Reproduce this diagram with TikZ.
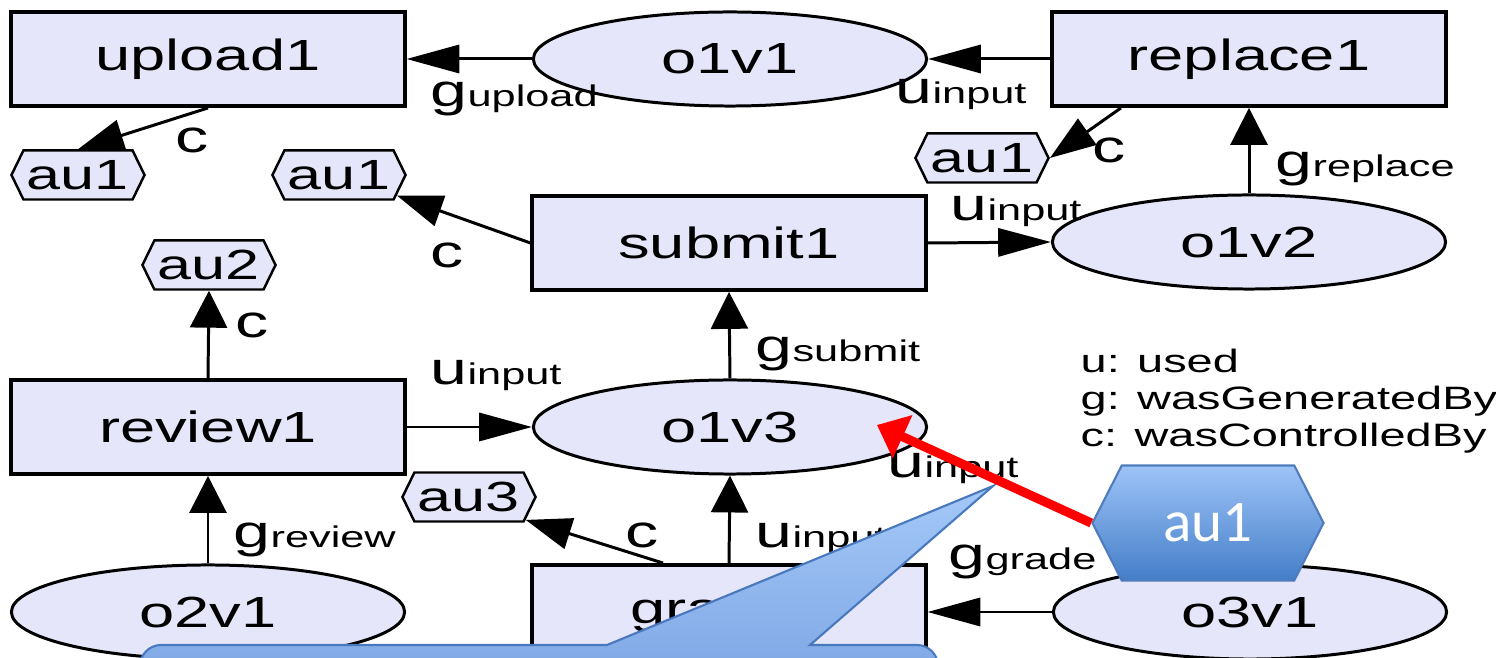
\documentclass[tikz,border=0pt]{standalone}
\usepackage{fontspec}
\setmainfont{Liberation Sans}[FakeStretch=1.45]
\newfontfamily\slidefont{Carlito}
\usetikzlibrary{arrows.meta,shapes.geometric,shapes.symbols}

\definecolor{provfill}{RGB}{230,230,250}
\definecolor{hexTop}{RGB}{158,196,248}
\definecolor{hexBot}{RGB}{68,126,200}
\definecolor{hexLine}{RGB}{78,124,188}
\definecolor{noteTop}{RGB}{164,200,248}
\definecolor{noteBot}{RGB}{118,160,224}
\definecolor{noteLine}{RGB}{72,120,190}

\newcommand{\nodefont}{\fontsize{12.4}{14}\selectfont}
\newcommand{\agentfont}{\fontsize{12}{13}\selectfont}
% edge label: big letter, small role name on the same baseline
\newcommand{\elab}[2]{{\fontsize{13}{15}\selectfont #1}{\fontsize{8.5}{10}\selectfont #2}}

\tikzset{
	proc/.style={draw, line width=1.1pt, fill=provfill, minimum width=3.93cm, minimum height=0.94cm, inner sep=0pt, font=\nodefont},
	art/.style={ellipse, draw, line width=0.85pt, fill=provfill, minimum width=3.93cm, minimum height=0.94cm, inner sep=0pt, font=\nodefont},
	agent/.style={signal, signal to=west and east, signal pointer angle=128, draw, line width=0.7pt, fill=provfill, minimum width=1.33cm, minimum height=0.49cm, inner sep=0pt, font=\agentfont},
	bigagent/.style={signal, signal to=west and east, signal pointer angle=126, draw=hexLine, line width=0.6pt, top color=hexTop, bottom color=hexBot, minimum width=2.31cm, minimum height=1.15cm, inner sep=0pt, text=white, font=\slidefont\fontsize{16.8}{20}\selectfont},
	lab/.style={anchor=base west, inner sep=0pt},
	legend/.style={anchor=base west, inner sep=0pt, font=\fontsize{9.2}{11}\selectfont},
	hedge/.style={-{Triangle[length=15pt,width=8pt]}, line width=0.85pt},
	vedge/.style={-{Triangle[length=10.5pt,width=10.5pt]}, line width=0.85pt},
	dedge/.style={-{Triangle[length=13pt,width=9pt]}, line width=0.85pt},
	redarrow/.style={-{Triangle[length=8pt,width=13pt]}, line width=2.6pt, red},
	note/.style={draw=noteLine, line width=0.6pt, top color=noteTop, bottom color=noteBot}
}

\begin{document}
\begin{tikzpicture}[x=0.01cm, y=-0.01cm]
	\useasboundingbox (0,0) rectangle (1496,658);
	\clip (0,0) rectangle (1496,658);

	% processes
	\node[proc] (upload1) at (208,59) {upload1};
	\node[proc] (replace1) at (1249,59) {replace1};
	\node[proc] (submit1) at (729,243) {submit1};
	\node[proc] (review1) at (208,427) {review1};
	\node[proc] (grade1) at (729,612) {grade1};

	% artifacts
	\node[art] (o1v1) at (730,59) {o1v1};
	\node[art] (o1v2) at (1249,242) {o1v2};
	\node[art] (o1v3) at (730,427) {o1v3};
	\node[art] (o2v1) at (208,612) {o2v1};
	\node[art] (o3v1) at (1250,612) {o3v1};

	% agents
	\node[agent] (au1a) at (78,175) {au1};
	\node[agent] (au1b) at (339,175) {au1};
	\node[agent] (au1c) at (982,158) {au1};
	\node[agent] (au2) at (209,265) {au2};
	\node[agent] (au3) at (469,497) {au3};

	% wasGeneratedBy
	\draw[hedge] (o1v1.west) -- (upload1.east);
	\draw[vedge] (o1v2.north) -- (replace1.south);
	\draw[vedge] (o1v3.north) -- (submit1.south);
	\draw[vedge] (o2v1.north) -- (review1.south);
	\draw[hedge] (o3v1.west) -- (grade1.east);

	% used
	\draw[hedge] (replace1.west) -- (o1v1.east);
	\draw[hedge] (submit1.east) -- (o1v2.west);
	\draw[hedge] (review1.east) -- (o1v3.west);
	\draw[vedge] (grade1.north) -- (o1v3.south);

	% wasControlledBy
	\draw[dedge] (upload1.south) -- (au1a.north);
	\draw[dedge] ([xshift=-1.28cm]replace1.south) -- (au1c.east);
	\draw[dedge] (submit1.west) -- (au1b);
	\draw[vedge] (review1.north) -- (au2.south);
	\draw[dedge] ([xshift=-0.66cm]grade1.north) -- (au3.-22);

	% edge labels
	\node[lab] (lupload) at (430,107) {\elab{g}{upload}};
	\node[lab] (lin1) at (895,104) {\elab{u}{input}};
	\node[lab] (lc1) at (175,153) {\elab{c}{}};
	\node[lab] (lc2) at (1092,163) {\elab{c}{}};
	\node[lab] (lreplace) at (1275,177) {\elab{g}{replace}};
	\node[lab] (lin2) at (950,221) {\elab{u}{input}};
	\node[lab] (lc3) at (430,268) {\elab{c}{}};
	\node[lab] (lc4) at (235,338) {\elab{c}{}};
	\node[lab] (lin3) at (430,385) {\elab{u}{input}};
	\node[lab] (lsubmit) at (755,362) {\elab{g}{submit}};
	\node[lab] (lin4) at (887,478) {\elab{u}{input}};
	\node[lab] (lreview) at (233,548) {\elab{g}{review}};
	\node[lab] (lc5) at (625,548) {\elab{c}{}};
	\node[lab] (lin5) at (755,548) {\elab{u}{input}};
	\node[lab] (lgrade) at (948,570) {\elab{g}{grade}};

	% key
	\foreach \t [count=\i] in {u: used, g: wasGeneratedBy, c: wasControlledBy}
	\node[legend] (key\i) at (1080,336+37*\i) {\t};

	% speech bubble
	\draw[note] (140,720) [rounded corners=6pt] -- (140,645) [sharp corners] -- (607,645) -- (993,486) -- (810,645) [rounded corners=6pt] -- (938,645) -- (938,720);

	% highlighted agent
	\node[bigagent] (au1big) at (1208,523) {au1};
	\coordinate (hit) at (877,425);
	\draw[redarrow] (au1big.west) -- (hit);
\end{tikzpicture}
\end{document}
